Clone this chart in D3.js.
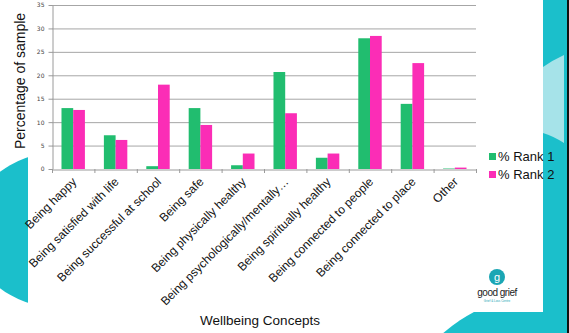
<!DOCTYPE html>
<html lang="en">
<head>
<meta charset="UTF-8">
<script src="https://d3js.org/d3.v7.min.js"></script>
<style>
  * { margin: 0; padding: 0; }
  body { background: #fff; width: 569px; height: 333px; overflow: hidden; font-family: "Liberation Sans", Arial, sans-serif; }
</style>
</head>
<body>
<svg id="chart" width="569" height="333"></svg>
<script>
// Chart data
const categories = [
  'Being happy', 'Being satisfied with life', 'Being successful at school', 'Being safe',
  'Being physically healthy', 'Being psychologically/mentally…', 'Being spiritually healthy',
  'Being connected to people', 'Being connected to place', 'Other'
];
const rank1 = [13.0, 7.2, 0.6, 13.0, 0.8, 20.7, 2.4, 27.9, 13.9, 0.1];
const rank2 = [12.6, 6.2, 18.0, 9.4, 3.3, 11.9, 3.3, 28.4, 22.6, 0.3];
const seriesNames = ['% Rank 1', '% Rank 2'];
const yTicks = [0, 5, 10, 15, 20, 25, 30, 35];

const colors = ['#21bd6f', '#fb2db6'];
const teal = '#1bbfcb';

const svg = d3.select('#chart');

// Background decoration
svg.append('ellipse').attr('cx', 60).attr('cy', 230).attr('rx', 90).attr('ry', 78).attr('fill', teal);
svg.append('circle').attr('cx', 560).attr('cy', 470).attr('r', 180).attr('fill', teal);
svg.append('rect').attr('x', 543).attr('y', 0).attr('width', 24).attr('height', 333).attr('fill', teal);
svg.append('path')
  .attr('d', 'M543,67 Q553,60 564,55 L564,143 Q553,136 543,133 Z')
  .attr('fill', '#a6e3e9');
svg.append('rect').attr('x', 567).attr('y', 0).attr('width', 2).attr('height', 333).attr('fill', '#111');
// white chart panel
svg.append('rect').attr('x', 28).attr('y', 0).attr('width', 515).attr('height', 312).attr('fill', '#fff');

const margin = { left: 52, top: 5, right: 476, bottom: 169 };

const x = d3.scaleBand().domain(categories).range([margin.left, margin.right]).paddingInner(0).paddingOuter(0);
const y = d3.scaleLinear().domain([0, 35]).range([margin.bottom, margin.top]);
const xs = d3.scaleBand().domain(seriesNames).range([0, x.bandwidth()]).paddingInner(0).paddingOuter(0.81);

// Gridlines
svg.append('g')
  .selectAll('line')
  .data(yTicks.slice(1))
  .join('line')
  .attr('x1', margin.left).attr('x2', margin.right)
  .attr('y1', d => y(d) + 0.5).attr('y2', d => y(d) + 0.5)
  .attr('stroke', '#a6a6a6').attr('stroke-width', 1);

// Y axis
const yAxis = svg.append('g')
  .attr('transform', `translate(${margin.left + 0.5},0)`)
  .call(d3.axisLeft(y).tickValues(yTicks).tickSize(4).tickSizeOuter(0));
yAxis.select('.domain').attr('stroke', '#9a9a9a');
yAxis.selectAll('.tick line').attr('stroke', '#9a9a9a');
yAxis.selectAll('.tick text').attr('font-size', 6).attr('fill', '#444').attr('x', -8)
  .attr('font-family', '"DejaVu Sans", sans-serif');

// Bars
const groups = svg.append('g')
  .selectAll('g')
  .data(categories)
  .join('g')
  .attr('transform', d => `translate(${x(d)},0)`);

groups.selectAll('rect')
  .data((d, i) => [rank1[i], rank2[i]].map((v, j) => ({ name: seriesNames[j], v, j })))
  .join('rect')
  .attr('x', d => xs(d.name))
  .attr('width', xs.bandwidth())
  .attr('y', d => y(d.v))
  .attr('height', d => y(0) - y(d.v))
  .attr('fill', d => colors[d.j]);

// X axis
const xAxis = svg.append('g')
  .attr('transform', `translate(0,${margin.bottom + 0.5})`)
  .call(d3.axisBottom(x).tickSize(0).tickSizeOuter(0));
xAxis.select('.domain').attr('stroke', '#9a9a9a');
// category boundary ticks
svg.append('g')
  .selectAll('line')
  .data(d3.range(categories.length + 1))
  .join('line')
  .attr('x1', i => margin.left + i * x.bandwidth() + 0.5)
  .attr('x2', i => margin.left + i * x.bandwidth() + 0.5)
  .attr('y1', margin.bottom).attr('y2', margin.bottom + 4)
  .attr('stroke', '#9a9a9a');

xAxis.selectAll('.tick text')
  .attr('font-size', 12)
  .attr('fill', '#111')
  .attr('text-anchor', 'end')
  .attr('dy', 0)
  .attr('y', 0)
  .attr('transform', 'translate(4,13) rotate(-45)');

// Axis titles
svg.append('text')
  .attr('transform', 'translate(25,81) rotate(-90)')
  .attr('text-anchor', 'middle')
  .attr('font-size', 14)
  .attr('fill', '#111')
  .text('Percentage of sample');

svg.append('text')
  .attr('x', 260).attr('y', 325)
  .attr('text-anchor', 'middle')
  .attr('font-size', 13.5)
  .attr('fill', '#111')
  .text('Wellbeing Concepts');

// Legend
const legend = svg.append('g')
  .selectAll('g')
  .data(seriesNames)
  .join('g')
  .attr('transform', (d, i) => `translate(489,${153 + i * 18})`);
legend.append('rect').attr('width', 7).attr('height', 7).attr('fill', (d, i) => colors[i]);
legend.append('text').attr('x', 9).attr('y', 8).attr('font-size', 13).attr('fill', '#111').text(d => d);

// Logo
const logo = svg.append('g').attr('transform', 'translate(497,0)');
logo.append('circle').attr('cx', 0).attr('cy', 277).attr('r', 8).attr('fill', '#1aa6b4');
logo.append('text').attr('x', 0).attr('y', 281).attr('text-anchor', 'middle')
  .attr('font-size', 11).attr('fill', '#fff').text('g');
logo.append('text').attr('x', 0).attr('y', 296).attr('text-anchor', 'middle')
  .attr('font-size', 10).attr('letter-spacing', -0.5).attr('fill', '#222').text('good grief');
logo.append('text').attr('x', 0).attr('y', 302).attr('text-anchor', 'middle')
  .attr('font-size', 3).attr('fill', '#1aa6b4').text('Grief & Loss Centre');
</script>
</body>
</html>
